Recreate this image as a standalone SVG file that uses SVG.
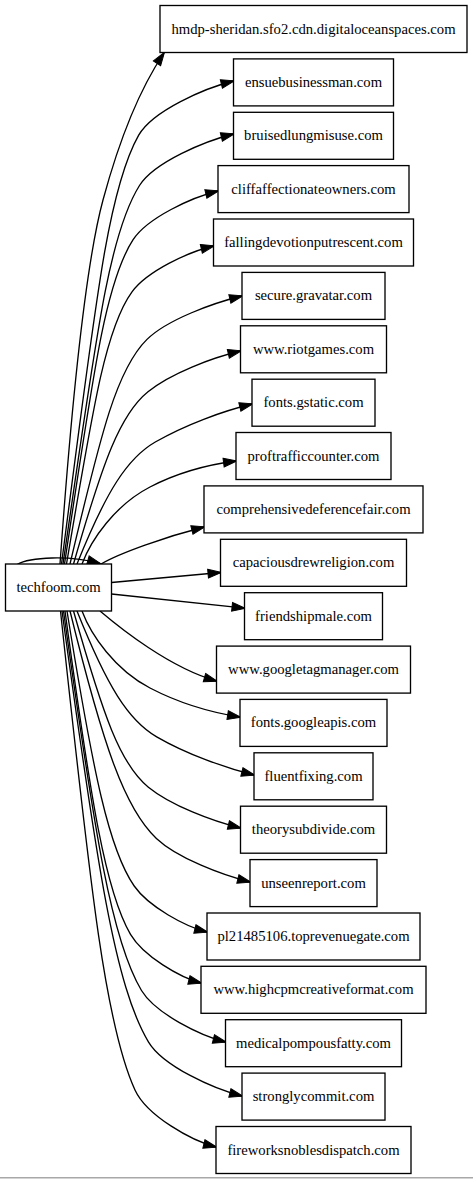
<svg xmlns="http://www.w3.org/2000/svg" width="473" height="1179" viewBox="0 0 473 1179">
<style>
.node rect{fill:#fff;stroke:#000;stroke-width:1.33}
.node text{font-family:"Liberation Serif","Times New Roman",serif;font-size:14.67px;text-anchor:middle;fill:#000}
.edges path{fill:none;stroke:#000;stroke-width:1.33;marker-end:url(#ah)}
</style>
<defs>
<marker id="ah" markerUnits="userSpaceOnUse" markerWidth="13.33" markerHeight="9.33" refX="12.5" refY="4.67" orient="auto" viewBox="0 0 13.33 9.33" style="overflow:visible">
<path d="M0,0.3 L13.33,4.67 L0,9.03 z" fill="#000" stroke="#000" stroke-width="1"/>
</marker>
</defs>
<rect x="0" y="0" width="473" height="1179" fill="#fff"/>
<rect x="0" y="1177" width="473" height="1.5" fill="#a8a8a8"/>
<g class="edges">
<path d="M17,564.5 C30,557 70,555 100,563.5"/>
<path d="M60,564 C70,424 84,270 103,200 C116.5,150 137,93 164,53"/>
<path d="M61.5,564 C95.2,306.7 107.1,190.9 138.7,135.2 C152.6,110.8 204.7,88.1 233.5,81"/>
<path d="M63,564 C96.2,336.9 108.4,234.7 139.5,185.5 C154.2,162.3 204.9,141 233.5,134"/>
<path d="M64.5,564 C93.9,369.4 105.5,281.9 133.1,239.7 C147.4,217.8 191.8,197.3 218,191"/>
<path d="M66.5,564 C94.1,400.7 106.1,327.3 132,291.9 C147.2,271.2 188,252 213.5,246"/>
<path d="M70,564 C101.8,429.2 117.2,368.6 147,339.4 C166.9,319.9 212.8,303 242,296"/>
<path d="M73.5,564 C103.2,460.6 120.2,414.1 148,391.7 C170.7,373.4 211.7,357.8 240.5,351"/>
<path d="M77,564 C106.4,490.8 127.6,457.9 155.3,442 C185.1,424.9 222.3,411.2 252,404"/>
<path d="M82,564 C91,540 115,505 150,487 C175,474 205,465 236,461"/>
<path d="M101,564 C120,553 165,537 204,527"/>
<path d="M111.5,582.5 L220.5,572.5"/>
<path d="M111.5,594 L244.5,608.2"/>
<path d="M100,611 C120,628 170,668 216.5,681"/>
<path d="M82,611 C91,635 115,670 150,688 C175,701 208,712 240,717"/>
<path d="M77,611 C107.1,686.5 128.4,720.4 156.7,736.8 C186.4,754 224.8,767.7 254,775"/>
<path d="M73.5,611 C103.5,716.7 120.3,764.3 148.4,787.2 C171,805.6 212.5,821.1 240.5,828"/>
<path d="M70,611 C103.6,747.5 124.9,808.9 156.4,838.5 C177.2,858.1 221.9,875 250,882"/>
<path d="M67,611 C93.6,776 109.3,850.3 134.2,886 C148.6,906.7 185.2,926.5 207,932"/>
<path d="M65,611 C91.4,805 105.8,892.4 130.5,934.4 C143.4,956.3 180.2,977.7 201,983"/>
<path d="M63.5,611 C95.2,838.7 111.8,941.2 141.5,990.5 C155.5,1013.7 200.6,1035.7 225.5,1042"/>
<path d="M62,611 C97.4,869.5 115.1,985.8 148.4,1041.8 C162.9,1066.2 213.9,1089 242,1096"/>
<path d="M60.5,611 C91.3,898.5 106.2,1027.9 135.1,1090.2 C147,1115.8 191.7,1140.9 216,1147"/>
</g>
<g class="node" id="techfoom"><rect x="5.5" y="564" width="106" height="47"/><text x="58.5" y="592">techfoom.com</text></g>
<g class="node" id="n0"><rect x="160" y="5.5" width="307" height="47"/><text x="313.5" y="33.5">hmdp-sheridan.sfo2.cdn.digitaloceanspaces.com</text></g>
<g class="node" id="n1"><rect x="233.5" y="58.9" width="160" height="47"/><text x="313.5" y="86.9">ensuebusinessman.com</text></g>
<g class="node" id="n2"><rect x="233.5" y="112.3" width="160" height="47"/><text x="313.5" y="140.3">bruisedlungmisuse.com</text></g>
<g class="node" id="n3"><rect x="218" y="165.6" width="191" height="47"/><text x="313.5" y="193.6">cliffaffectionateowners.com</text></g>
<g class="node" id="n4"><rect x="213.5" y="219" width="200" height="47"/><text x="313.5" y="247">fallingdevotionputrescent.com</text></g>
<g class="node" id="n5"><rect x="242" y="272.4" width="143" height="47"/><text x="313.5" y="300.4">secure.gravatar.com</text></g>
<g class="node" id="n6"><rect x="240.5" y="325.8" width="146" height="47"/><text x="313.5" y="353.8">www.riotgames.com</text></g>
<g class="node" id="n7"><rect x="252" y="379.2" width="123" height="47"/><text x="313.5" y="407.2">fonts.gstatic.com</text></g>
<g class="node" id="n8"><rect x="236" y="432.5" width="155" height="47"/><text x="313.5" y="460.5">proftrafficcounter.com</text></g>
<g class="node" id="n9"><rect x="204" y="485.9" width="219" height="47"/><text x="313.5" y="513.9">comprehensivedeferencefair.com</text></g>
<g class="node" id="n10"><rect x="220.5" y="539.3" width="186" height="47"/><text x="313.5" y="567.3">capaciousdrewreligion.com</text></g>
<g class="node" id="n11"><rect x="244.5" y="592.7" width="138" height="47"/><text x="313.5" y="620.7">friendshipmale.com</text></g>
<g class="node" id="n12"><rect x="216.5" y="646.1" width="194" height="47"/><text x="313.5" y="674.1">www.googletagmanager.com</text></g>
<g class="node" id="n13"><rect x="240" y="699.4" width="147" height="47"/><text x="313.5" y="727.4">fonts.googleapis.com</text></g>
<g class="node" id="n14"><rect x="254" y="752.8" width="119" height="47"/><text x="313.5" y="780.8">fluentfixing.com</text></g>
<g class="node" id="n15"><rect x="240.5" y="806.2" width="146" height="47"/><text x="313.5" y="834.2">theorysubdivide.com</text></g>
<g class="node" id="n16"><rect x="250" y="859.6" width="127" height="47"/><text x="313.5" y="887.6">unseenreport.com</text></g>
<g class="node" id="n17"><rect x="207" y="913" width="213" height="47"/><text x="313.5" y="941">pl21485106.toprevenuegate.com</text></g>
<g class="node" id="n18"><rect x="201" y="966.3" width="225" height="47"/><text x="313.5" y="994.3">www.highcpmcreativeformat.com</text></g>
<g class="node" id="n19"><rect x="225.5" y="1019.7" width="176" height="47"/><text x="313.5" y="1047.7">medicalpompousfatty.com</text></g>
<g class="node" id="n20"><rect x="242" y="1073.1" width="143" height="47"/><text x="313.5" y="1101.1">stronglycommit.com</text></g>
<g class="node" id="n21"><rect x="216" y="1126.5" width="195" height="47"/><text x="313.5" y="1154.5">fireworksnoblesdispatch.com</text></g>
</svg>
